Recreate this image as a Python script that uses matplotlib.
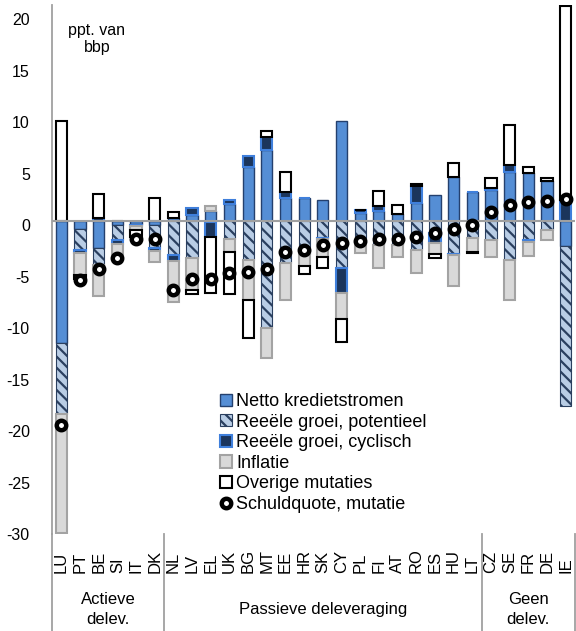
import numpy as np
import matplotlib
matplotlib.use("Agg")
import matplotlib.pyplot as plt
from matplotlib.patches import Patch
from matplotlib.lines import Line2D
from matplotlib.transforms import ScaledTranslation, blended_transform_factory

plt.rcParams['font.family'] = ['Liberation Sans', 'DejaVu Sans']
plt.rcParams['hatch.linewidth'] = 1.6

countries = ["LU", "PT", "BE", "SI", "IT", "DK", "NL", "LV", "EL", "UK", "BG", "MT", "EE", "HR",
             "SK", "CY", "PL", "FI", "AT", "RO", "ES", "HU", "LT", "CZ", "SE", "FR", "DE", "IE"]

netto = [-11.9, -0.85, -2.7, -0.4, -0.35, -0.4, 0.3, 0.55, 0.97, 1.6, 5.25, 6.85, 2.17, 2.17,
         2.0, 9.7, 0.75, 0.9, 0.6, 1.75, 2.5, 4.27, 2.75, 3.0, 4.75, 4.6, 3.85, -2.45]
potentieel = [-6.9, -2.0, -1.6, -1.5, -0.1, -2.3, -3.3, -3.65, -0.15, -1.8, -3.8, -10.45, -4.15, -3.2,
              -1.7, -4.6, -2.2, -2.35, -2.35, -2.85, -1.2, -3.2, -1.7, -1.9, -3.8, -1.9, -0.9, -15.55]
cyclisch = [0.0, -0.25, 0.3, -0.4, -0.1, -0.2, -0.65, 0.7, -1.4, 0.4, 1.05, 1.3, 0.65, 0.0,
            -0.1, -2.45, 0.3, 0.5, 0.0, 1.65, -1.0, -0.15, 0.0, 0.15, 0.65, -0.15, 0.0, 2.0]
inflatie = [-11.5, -2.2, -3.0, -1.15, -0.35, -1.15, -3.9, -3.05, 0.45, -1.2, -3.9, -2.9, -3.55, -1.2,
            -1.7, -2.45, -0.9, -2.25, -1.15, -2.2, -1.0, -3.0, -1.3, -1.6, -3.9, -1.4, -1.0, 0.0]
overige = [9.7, -0.4, 2.3, 0.0, -0.65, 2.2, 0.5, -0.45, -5.5, -4.15, -3.7, 0.55, 1.9, -0.8,
           -1.1, -2.25, 0.0, 1.5, 0.9, 0.2, -0.4, 1.35, -0.15, 0.95, 3.9, 0.6, 0.25, 18.8]
schuldquote = [-19.8, -5.75, -4.7, -3.6, -1.8, -1.8, -6.7, -5.7, -5.7, -5.1, -4.95, -4.7, -3.0, -2.8,
               -2.35, -2.2, -2.0, -1.8, -1.8, -1.6, -1.2, -0.85, -0.4, 0.8, 1.5, 1.8, 1.9, 2.1]

series_labels = ["Netto kredietstromen", "Reeële groei, potentieel", "Reeële groei, cyclisch",
                 "Inflatie", "Overige mutaties"]
marker_label = "Schuldquote, mutatie"
groups = ["Actieve\ndelev.", "Passieve deleveraging", "Geen\ndelev."]
group_sizes = [6, 17, 5]
yticks = [-30, -25, -20, -15, -10, -5, 0, 5, 10, 15, 20]
unit_text = "ppt. van\nbbp"

W, H = 576, 631
fig = plt.figure(figsize=(W / 100, H / 100), dpi=100)
ax = fig.add_axes([52 / W, 1 - 534 / H, (575 - 52) / W, (534 - 5) / H])

styles = [
    dict(facecolor="#558ED5", edgecolor="#24406E", linewidth=1.0),
    dict(facecolor="#B9CDE5", edgecolor="#2A3F5F", linewidth=0.8, hatch="\\\\\\"),
    dict(facecolor="#1B355C", edgecolor="#3F7FDB", linewidth=1.5),
    dict(facecolor="#D9D9D9", edgecolor="#A3A3A3", linewidth=1.5),
    dict(facecolor="white", edgecolor="black", linewidth=1.5),
]

x = np.arange(len(countries))
pos_b = np.zeros(len(countries))
neg_b = np.zeros(len(countries))
handles = []
for vals, st, lab in zip([netto, potentieel, cyclisch, inflatie, overige], styles, series_labels):
    v = np.array(vals, dtype=float)
    bottom = np.where(v >= 0, pos_b, neg_b)
    ax.bar(x, v, bottom=bottom, width=0.6, zorder=2, **st)
    pos_b = pos_b + np.where(v > 0, v, 0)
    neg_b = neg_b + np.where(v < 0, v, 0)
    handles.append(Patch(label=lab, **st))

ms, mew = 6.8, 3.2
ax.plot(x, schuldquote, linestyle="none", marker="o", markersize=ms, markeredgewidth=mew,
        markerfacecolor="white", markeredgecolor="black", zorder=5)
handles.append(Line2D([], [], linestyle="none", marker="o", markersize=ms, markeredgewidth=mew,
                      markerfacecolor="white", markeredgecolor="black", label=marker_label))

ax.axhline(0, color="#A0A0A0", linewidth=1.5, zorder=3)
ax.set_xlim(-0.5, len(countries) - 0.5)
ax.set_ylim(-30.42, 20.94)
ax.set_yticks(yticks)
ax.set_yticklabels([str(t) for t in yticks], fontsize=11.5)
ax.tick_params(axis="y", length=0, pad=16)
ax.set_xticks([])
for s in ["top", "right", "bottom"]:
    ax.spines[s].set_visible(False)
ax.spines["left"].set_color("#A0A0A0")
ax.spines["left"].set_linewidth(1.3)
off = ScaledTranslation(0, -0.045, fig.dpi_scale_trans)
for lbl in ax.get_yticklabels():
    lbl.set_transform(lbl.get_transform() + off)

# category labels
tr = blended_transform_factory(ax.transData, fig.transFigure)
for xi, c in zip(x, countries):
    ax.text(xi, 1 - 573 / H, c, rotation=90, ha="center", va="bottom", fontsize=12,
            transform=tr, clip_on=False)

# group separators and labels
edges = np.concatenate([[0], np.cumsum(group_sizes)]) - 0.5
for e in edges:
    ax.add_line(Line2D([e, e], [1 - 534 / H, 0], transform=tr, color="#A0A0A0",
                       linewidth=1.3, clip_on=False))
for g, a, b in zip(groups, edges[:-1], edges[1:]):
    ax.text((a + b) / 2, 1 - 609.5 / H, g, ha="center", va="center", fontsize=12,
            linespacing=1.45, transform=tr, clip_on=False)

fig.text(97 / W, 1 - 39 / H, unit_text, ha="center", va="center", fontsize=11.5, linespacing=1.2)

fig.legend(handles=handles, loc="upper left", bbox_to_anchor=(220 / W, 1 - 393 / H),
           frameon=False, fontsize=13, borderpad=0, borderaxespad=0, handlelength=0.65,
           handleheight=0.65, handletextpad=0.25, labelspacing=0.2)

fig.savefig("out.png", dpi=100)
